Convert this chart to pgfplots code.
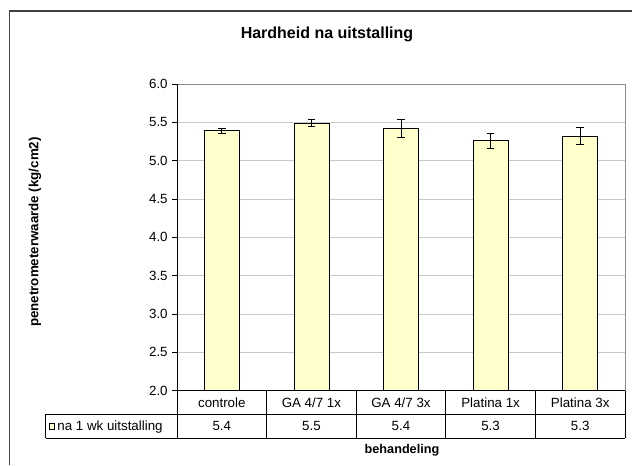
\documentclass[border=0pt]{standalone}
\usepackage{pgfplots}
\pgfplotsset{compat=1.18}
\usepackage{fontspec}
\setmainfont{Liberation Sans}
\definecolor{barfill}{RGB}{255,255,204}
\definecolor{framegray}{RGB}{64,64,64}
\definecolor{gridgray}{RGB}{200,200,200}
\definecolor{bordergray}{RGB}{140,140,140}
\begin{document}
\begin{tikzpicture}
\useasboundingbox (0pt,0pt) rectangle (474pt,-348.75pt);
% outer chart frame (top and left visible)
\draw[framegray, line width=1pt] (7.1pt,-348.75pt) -- (7.1pt,-8.25pt) -- (474pt,-8.25pt);
\begin{axis}[
  at={(132.75pt,-293pt)}, anchor=south west,
  scale only axis, width=336pt, height=230pt,
  xmin=-0.5, xmax=4.5, ymin=2, ymax=6,
  clip=false,
  axis line style={draw=none},
  ytick={2,2.5,...,6},
  ytick pos=left,
  tick align=outside,
  major tick length=3.5pt,
  y tick style={black, line width=0.6pt},
  ymajorgrids,
  grid style={gridgray, line width=0.6pt},
  yticklabel style={font=\fontsize{10}{12}\selectfont, /pgf/number format/.cd, fixed, fixed zerofill, precision=1, assume math mode=true},
  xtick={0,1,2,3,4},
  xticklabels={controle, GA 4/7 1x, GA 4/7 3x, Platina 1x, Platina 3x},
  x tick style={draw=none},
  xticklabel style={font=\fontsize{10}{12}\selectfont, anchor=center, yshift=-8.85pt+3.5pt},
  legend style={at={(rel axis cs:-0.2857,-0.1161)}, anchor=west, draw=none, fill=none,
    inner xsep=0pt, inner ysep=0pt, font=\fontsize{10}{12}\selectfont},
  legend image code/.code={\draw[fill=barfill, draw=black, line width=0.5pt] (0pt,-2pt) rectangle (3.6pt,2.4pt);},
]
\addplot[ybar, bar width=26.25pt, fill=barfill, draw=black, line width=0.6pt,
  error bars/.cd, y dir=both, y explicit,
  error bar style={black, line width=0.7pt},
  error mark options={rotate=90, mark size=2.8pt, black, line width=0.7pt}]
  coordinates {
    (0,5.39) +- (0,0.03)
    (1,5.49) +- (0,0.05)
    (2,5.42) +- (0,0.12)
    (3,5.26) +- (0,0.095)
    (4,5.32) +- (0,0.11)
  };
\addlegendentry{na 1 wk uitstalling}
% data table value row (rounded means)
\addplot[draw=none, mark=none, forget plot,
  nodes near coords, point meta=explicit,
  every node near coord/.append style={anchor=center, yshift=-26.7pt, black,
    font=\fontsize{10}{12}\selectfont,
    /pgf/number format/.cd, fixed, fixed zerofill, precision=1, assume math mode=true}]
  coordinates {(0,2) [5.39] (1,2) [5.49] (2,2) [5.42] (3,2) [5.26] (4,2) [5.32]};
\end{axis}
% plot area borders
\draw[bordergray, line width=0.6pt] (132.75pt,-63pt) -- (468.75pt,-63pt) -- (468.75pt,-293pt);
\draw[black, line width=0.7pt] (132.75pt,-63pt) -- (132.75pt,-293pt) -- (468.75pt,-293pt);
% data table grid
\draw[black, line width=0.6pt] (34.3pt,-310.7pt) -- (468.75pt,-310.7pt);
\draw[black, line width=0.6pt] (34.3pt,-328.7pt) -- (468.75pt,-328.7pt);
\draw[black, line width=0.6pt] (34.3pt,-310.7pt) -- (34.3pt,-328.7pt);
\foreach \x in {132.75,199.95,267.15,334.35,401.55,468.75}
  \draw[black, line width=0.6pt] (\x pt,-293pt) -- (\x pt,-328.7pt);
% titles
\node[font=\bfseries\fontsize{12}{14}\selectfont] at (245.25pt,-25.5pt) {Hardheid na uitstalling};
\node[font=\bfseries\fontsize{10}{12}\selectfont, rotate=90] at (26.25pt,-174pt) {penetrometerwaarde (kg/cm2)};
\node[font=\bfseries\fontsize{9.5}{11}\selectfont] at (301.5pt,-337.5pt) {behandeling};
\end{tikzpicture}
\end{document}
